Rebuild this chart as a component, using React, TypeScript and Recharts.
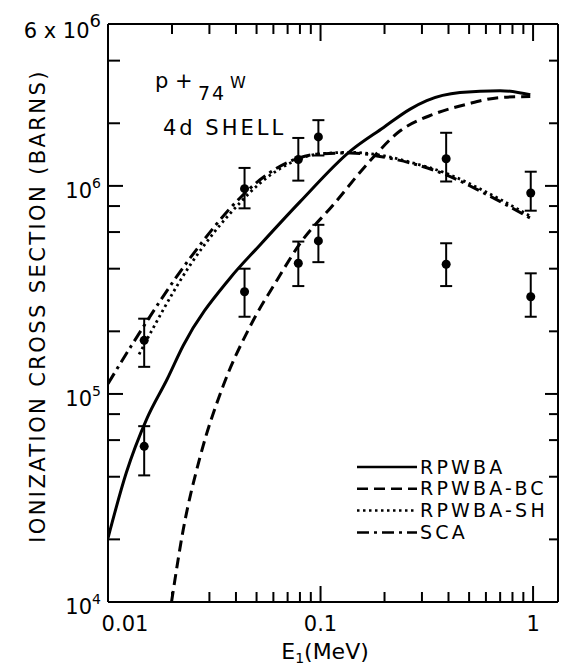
import {
  ComposedChart,
  Line,
  Scatter,
  ErrorBar,
  XAxis,
  YAxis,
  Legend,
  Customized,
} from 'recharts'

const FONT = '"DejaVu Sans", sans-serif'

// theory curves: proton energy (MeV) vs 4d ionization cross section (barns)
const rpwbaE = [0.01, 0.0122, 0.0152, 0.019, 0.0226, 0.0375, 0.0519, 0.0802, 0.138, 0.198, 0.264, 0.316, 0.453, 0.7, 0.97]
const rpwbaSigma = [2.03e4, 4.19e4, 7.57e4, 1.18e5, 1.71e5, 3.6e5, 5.2e5, 8.4e5, 1.47e6, 1.91e6, 2.34e6, 2.57e6, 2.81e6, 2.87e6, 2.74e6]

const bcE = [0.0199, 0.0226, 0.0271, 0.0349, 0.0466, 0.0632, 0.0802, 0.115, 0.171, 0.237, 0.34, 0.488, 0.7, 0.97]
const bcSigma = [1.0e4, 2.23e4, 4.97e4, 1.1e5, 2.11e5, 3.6e5, 5.3e5, 8.13e5, 1.32e6, 1.84e6, 2.21e6, 2.47e6, 2.66e6, 2.69e6]

const shE = [0.014, 0.0243, 0.0418, 0.0519, 0.0787, 0.0958, 0.138, 0.21, 0.264, 0.39, 0.607, 0.97]
const shSigma = [1.55e5, 4.15e5, 8.3e5, 1.03e6, 1.34e6, 1.42e6, 1.45e6, 1.38e6, 1.3e6, 1.15e6, 9.3e5, 7.15e5]

const scaE = [0.01, 0.0129, 0.0243, 0.0418, 0.0519, 0.0787, 0.0958, 0.138, 0.21, 0.264, 0.39, 0.607, 0.97]
const scaSigma = [1.12e5, 1.71e5, 4.49e5, 8.75e5, 1.07e6, 1.36e6, 1.42e6, 1.44e6, 1.36e6, 1.29e6, 1.13e6, 9.08e5, 7.0e5]

// measured points (two sets) with error bar limits
const expE = [0.0148, 0.0439, 0.0786, 0.0977, 0.39, 0.975]
const upperSigma = [1.81e5, 9.7e5, 1.34e6, 1.72e6, 1.35e6, 9.25e5]
const upperLo = [1.35e5, 7.8e5, 1.06e6, 1.4e6, 1.05e6, 7.6e5]
const upperHi = [2.3e5, 1.22e6, 1.7e6, 2.07e6, 1.8e6, 1.17e6]
const lowerSigma = [5.6e4, 3.1e5, 4.25e5, 5.44e5, 4.2e5, 2.93e5]
const lowerLo = [4.06e4, 2.35e5, 3.3e5, 4.3e5, 3.3e5, 2.35e5]
const lowerHi = [7.0e4, 4.0e5, 5.4e5, 6.5e5, 5.3e5, 3.8e5]

const xTicks = [0.01, 0.02, 0.03, 0.04, 0.05, 0.06, 0.07, 0.08, 0.09, 0.1, 0.2, 0.3, 0.4, 0.5, 0.6, 0.7, 0.8, 0.9, 1]
const xMajor = [0.01, 0.1, 1]
const xLabels = ['0.01', '0.1', '1']
const yTicks = [1e4, 2e4, 4e4, 6e4, 8e4, 1e5, 2e5, 4e5, 6e5, 8e5, 1e6, 2e6, 4e6]
const yMajor = [1e4, 1e5, 1e6]
const yLabelTicks = [1e4, 1e5, 1e6, 6e6]
const yExp = ['4', '5', '6']

const xDomain = [0.01, 1.31]
const yDomain = [1e4, 6e6]

const toPoints = (xs: number[], ys: number[]) => xs.map((x, i) => ({ x, y: ys[i] }))
const toExp = (ys: number[], lo: number[], hi: number[]) =>
  expE.map((x, i) => ({ x, y: ys[i], err: [ys[i] - lo[i], hi[i] - ys[i]] }))

// tick marks placed on the frame through the chart scales
const bottomMarks = xTicks.map((x) => ({ x, y: yDomain[0], major: xMajor.includes(x) }))
const topMarks = xTicks.map((x) => ({ x, y: yDomain[1], major: xMajor.includes(x) }))
const leftMarks = yTicks.map((y) => ({ x: xDomain[0], y, major: yMajor.includes(y) }))
const rightMarks = yTicks.map((y) => ({ x: xDomain[1], y, major: yMajor.includes(y) }))

const axisLine = { stroke: '#000', strokeWidth: 2 }

const markShape = (dx: number, dy: number, major: number, minor: number) => (p: any) => {
  const len = p.payload.major ? major : minor
  return <line x1={p.cx} y1={p.cy} x2={p.cx + dx * len} y2={p.cy + dy * len} stroke="#000" strokeWidth={2} />
}

function BottomLabel(props: any) {
  const { x, y, payload } = props
  const mi = xMajor.indexOf(payload.value)
  if (mi < 0) return <g />
  return (
    <text x={x + (mi === 0 ? 17 : 0)} y={y + 29} textAnchor="middle" fontSize={21} fontFamily={FONT} fill="#000">
      {xLabels[mi]}
    </text>
  )
}

function LeftLabel(props: any) {
  const { x, y, payload } = props
  const v = payload.value
  if (v === 6e6) {
    return (
      <text x={x - 7} y={y + 14} textAnchor="end" fontSize={21} fontFamily={FONT} fill="#000">
        6 x 10<tspan fontSize={18} dy={-11}>6</tspan>
      </text>
    )
  }
  const mi = yMajor.indexOf(v)
  return (
    <text x={x - 7} y={y + 12} textAnchor="end" fontSize={21} fontFamily={FONT} fill="#000">
      10<tspan fontSize={14} dy={-10}>{yExp[mi]}</tspan>
    </text>
  )
}

function LegendBox(props: any) {
  const items = (props.payload || []).filter((p: any) => p.type !== 'none')
  return (
    <svg width={200} height={90}>
      {items.map((p: any, i: number) => {
        const ly = 12 + i * 21.8
        return (
          <g key={p.value}>
            <line x1={2} x2={62} y1={ly} y2={ly} stroke="#000" strokeWidth={2.5}
              strokeDasharray={p.payload?.strokeDasharray} />
            <text x={65} y={ly + 6.5} fontSize={19} letterSpacing={3.2} fontFamily={FONT} fill="#000">
              {p.value}
            </text>
          </g>
        )
      })}
    </svg>
  )
}

function Texts() {
  return (
    <g fontFamily={FONT} fill="#000">
      <text x={45} y={306} fontSize={21} letterSpacing={2.4} textAnchor="middle" transform="rotate(-90, 45, 306)">
        IONIZATION CROSS SECTION (BARNS)
      </text>
      <text x={325} y={659} fontSize={22} textAnchor="middle">
        E<tspan fontSize={14} dy={4}>1</tspan><tspan dy={-4}>(MeV)</tspan>
      </text>
      <text x={155} y={88} fontSize={21}>p +</text>
      <text x={198} y={100} fontSize={19} letterSpacing={2}>74</text>
      <text x={230} y={88} fontSize={16}>W</text>
      <text x={163} y={135} fontSize={21} letterSpacing={3}>4d SHELL</text>
    </g>
  )
}

export default function App() {
  return (
    <div style={{ position: 'absolute', left: 0, top: 0, width: 562, height: 670, background: '#fff' }}>
      <ComposedChart width={562} height={670} margin={{ top: 0, right: 0, bottom: 0, left: 0 }}>
        <XAxis dataKey="x" type="number" scale="log" domain={xDomain} allowDataOverflow
          ticks={xMajor} interval={0} tickSize={0} tickMargin={0} tickLine={false}
          tick={(p: any) => <BottomLabel {...p} />} axisLine={axisLine} height={68} />
        <XAxis xAxisId="top" orientation="top" dataKey="x" type="number" scale="log" domain={xDomain} allowDataOverflow
          ticks={xMajor} tick={false} tickLine={false} axisLine={axisLine} height={24} />
        <YAxis type="number" scale="log" domain={yDomain} allowDataOverflow
          ticks={yLabelTicks} interval={0} tickSize={0} tickMargin={0} tickLine={false}
          tick={(p: any) => <LeftLabel {...p} />} axisLine={axisLine} width={108} />
        <YAxis yAxisId="right" orientation="right" type="number" scale="log" domain={yDomain} allowDataOverflow
          ticks={yMajor} tick={false} tickLine={false} axisLine={axisLine} width={4} />

        <Scatter data={bottomMarks} dataKey="y" legendType="none" isAnimationActive={false} shape={markShape(0, -1, 16, 10)} />
        <Scatter data={topMarks} dataKey="y" legendType="none" isAnimationActive={false} shape={markShape(0, 1, 17, 10)} />
        <Scatter data={leftMarks} dataKey="y" legendType="none" isAnimationActive={false} shape={markShape(1, 0, 15, 12)} />
        <Scatter data={rightMarks} dataKey="y" legendType="none" isAnimationActive={false} shape={markShape(-1, 0, 13, 9)} />

        <Line data={toPoints(rpwbaE, rpwbaSigma)} dataKey="y" name="RPWBA" type="monotone"
          stroke="#000" strokeWidth={3} dot={false} activeDot={false} isAnimationActive={false} />
        <Line data={toPoints(bcE, bcSigma)} dataKey="y" name="RPWBA-BC" type="monotone"
          stroke="#000" strokeWidth={3} strokeDasharray="11 6" dot={false} activeDot={false} isAnimationActive={false} />
        <Line data={toPoints(shE, shSigma)} dataKey="y" name="RPWBA-SH" type="monotone"
          stroke="#000" strokeWidth={2.8} strokeDasharray="2.5 3.5" dot={false} activeDot={false} isAnimationActive={false} />
        <Line data={toPoints(scaE, scaSigma)} dataKey="y" name="SCA" type="monotone"
          stroke="#000" strokeWidth={3} strokeDasharray="12 5 3 5" dot={false} activeDot={false} isAnimationActive={false} />

        <Scatter data={toExp(upperSigma, upperLo, upperHi)} dataKey="y" fill="#000" legendType="none" isAnimationActive={false}>
          <ErrorBar dataKey="err" direction="y" width={6} stroke="#000" strokeWidth={2} isAnimationActive={false} />
        </Scatter>
        <Scatter data={toExp(lowerSigma, lowerLo, lowerHi)} dataKey="y" fill="#000" legendType="none" isAnimationActive={false}>
          <ErrorBar dataKey="err" direction="y" width={6} stroke="#000" strokeWidth={2} isAnimationActive={false} />
        </Scatter>

        <Legend content={(p: any) => <LegendBox {...p} />} layout="horizontal" align="center" verticalAlign="middle"
          wrapperStyle={{ left: 355, top: 455, width: 200, height: 90 }} />
        <Customized component={Texts} />
      </ComposedChart>
    </div>
  )
}
